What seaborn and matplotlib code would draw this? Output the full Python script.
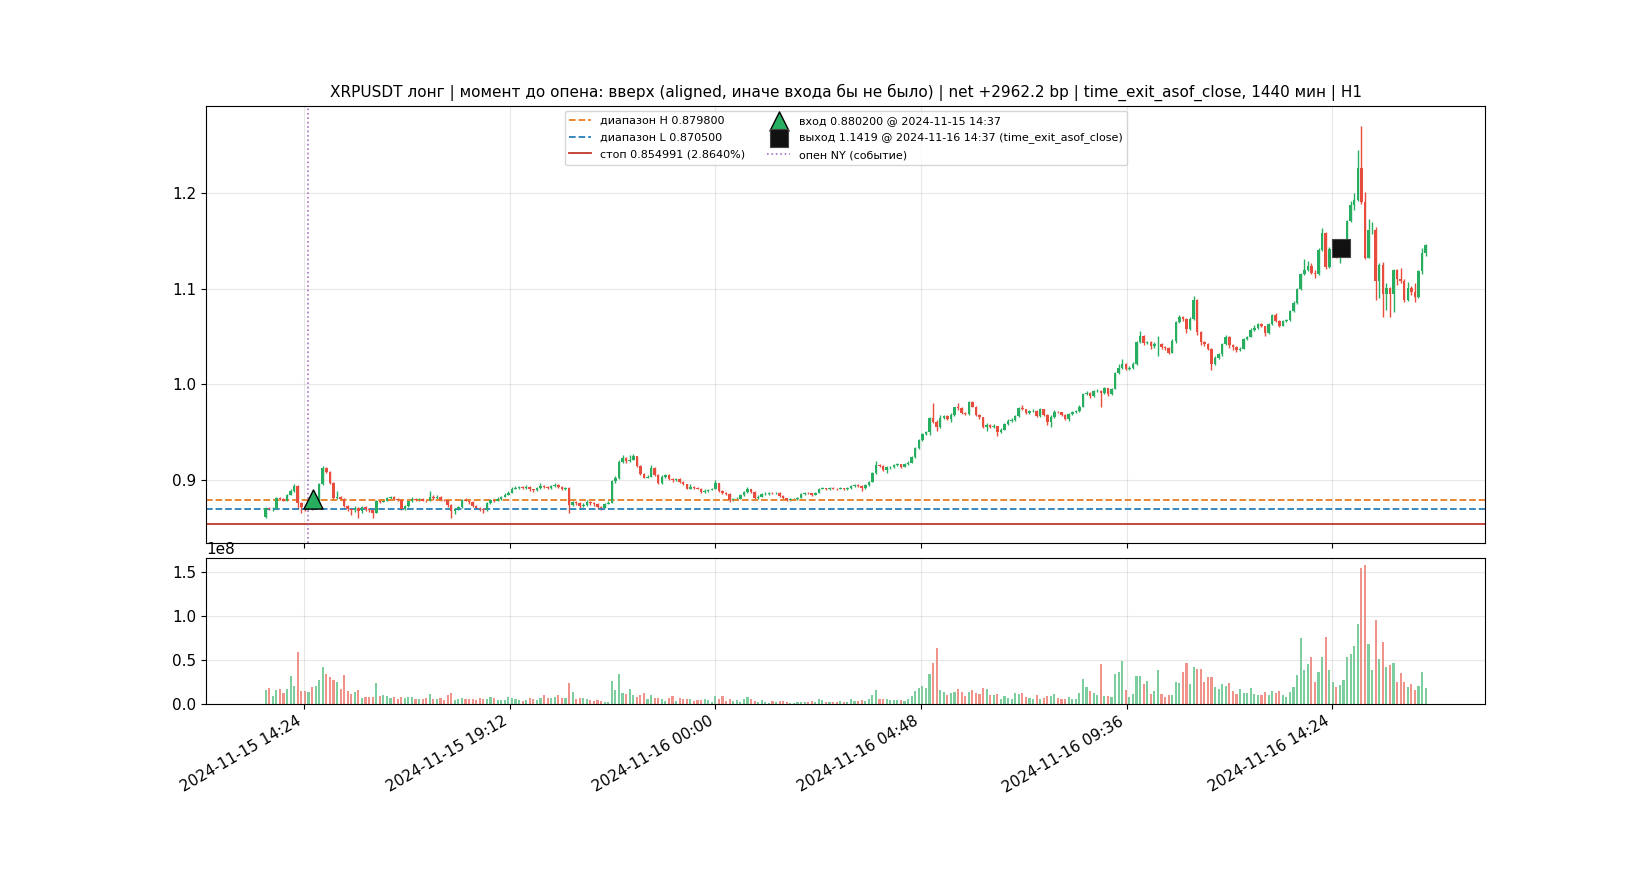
import numpy as np
import pandas as pd
import matplotlib
matplotlib.use("Agg")
import matplotlib.pyplot as plt
import matplotlib.dates as mdates
import seaborn as sns

# ---------------- data ----------------
start_time = "2024-11-15 13:30"
bar_freq = "5min"
first_open = 0.8615

closes = [
    0.8710, 0.8700, 0.8705, 0.8815, 0.8805, 0.8790, 0.8850, 0.8890, 0.8945, 0.8760,
    0.8720, 0.8700, 0.8725, 0.8710, 0.8745, 0.8960, 0.9130, 0.9090, 0.8975, 0.8815,
    0.8830, 0.8810, 0.8730, 0.8700, 0.8690, 0.8715, 0.8680, 0.8720, 0.8700, 0.8690,
    0.8665, 0.8785, 0.8775, 0.8790, 0.8815, 0.8825, 0.8810, 0.8800, 0.8700, 0.8730,
    0.8780, 0.8810, 0.8795, 0.8805, 0.8790, 0.8785, 0.8830, 0.8815, 0.8830, 0.8800,
    0.8795, 0.8740, 0.8680, 0.8700, 0.8720, 0.8800, 0.8790, 0.8770, 0.8730, 0.8715,
    0.8700, 0.8690, 0.8760, 0.8795, 0.8790, 0.8810, 0.8830, 0.8850, 0.8870, 0.8915,
    0.8925, 0.8930, 0.8920, 0.8935, 0.8905, 0.8895, 0.8925, 0.8945, 0.8930, 0.8925,
    0.8945, 0.8955, 0.8930, 0.8905, 0.8920, 0.8745, 0.8770, 0.8765, 0.8730, 0.8740,
    0.8770, 0.8760, 0.8750, 0.8720, 0.8715, 0.8755, 0.8765, 0.8990, 0.9020, 0.9195,
    0.9235, 0.9200, 0.9215, 0.9250, 0.9150, 0.9070, 0.9030, 0.9040, 0.9130, 0.9060,
    0.8970, 0.9040, 0.9060, 0.9010, 0.9000, 0.9010, 0.8985, 0.8960, 0.8915, 0.8930,
    0.8925, 0.8915, 0.8875, 0.8890, 0.8900, 0.8910, 0.8970, 0.8890, 0.8870, 0.8860,
    0.8795, 0.8805, 0.8810, 0.8845, 0.8875, 0.8905, 0.8880, 0.8820, 0.8830, 0.8860,
    0.8860, 0.8870, 0.8865, 0.8870, 0.8840, 0.8815, 0.8800, 0.8805, 0.8810, 0.8820,
    0.8855, 0.8870, 0.8865, 0.8850, 0.8870, 0.8910, 0.8920, 0.8905, 0.8920, 0.8915,
    0.8910, 0.8920, 0.8905, 0.8920, 0.8940, 0.8955, 0.8945, 0.8925, 0.8950, 0.8985,
    0.9080, 0.9160, 0.9150, 0.9110, 0.9135, 0.9140, 0.9160, 0.9170, 0.9140, 0.9175,
    0.9185, 0.9245, 0.9340, 0.9420, 0.9480, 0.9505, 0.9650, 0.9610, 0.9560, 0.9650,
    0.9670, 0.9640, 0.9680, 0.9760, 0.9750, 0.9700, 0.9690, 0.9815, 0.9770, 0.9680,
    0.9660, 0.9560, 0.9580, 0.9560, 0.9565, 0.9500, 0.9530, 0.9590, 0.9620, 0.9630,
    0.9670, 0.9750, 0.9740, 0.9700, 0.9720, 0.9725, 0.9670, 0.9740, 0.9680, 0.9610,
    0.9660, 0.9715, 0.9710, 0.9680, 0.9640, 0.9690, 0.9710, 0.9720, 0.9770, 0.9905,
    0.9915, 0.9880, 0.9930, 0.9935, 0.9915, 0.9960, 0.9900, 0.9955, 1.0115, 1.0170,
    1.0215, 1.0160, 1.0175, 1.0215, 1.0440, 1.0510, 1.0430, 1.0440, 1.0400, 1.0420,
    1.0425, 1.0390, 1.0385, 1.0330, 1.0450, 1.0650, 1.0700, 1.0680, 1.0580, 1.0685,
    1.0880, 1.0550, 1.0440, 1.0420, 1.0370, 1.0215, 1.0280, 1.0315, 1.0420, 1.0500,
    1.0410, 1.0390, 1.0360, 1.0375, 1.0470, 1.0495, 1.0570, 1.0585, 1.0630, 1.0605,
    1.0540, 1.0630, 1.0720, 1.0660, 1.0610, 1.0660, 1.0670, 1.0770, 1.0850, 1.1000,
    1.1150, 1.1195, 1.1230, 1.1165, 1.1150, 1.1400, 1.1580, 1.1220, 1.1410, 1.1440,
    1.1330, 1.1420, 1.1440, 1.1700, 1.1870, 1.1920, 1.2260, 1.1900, 1.1320, 1.1610,
    1.1615, 1.1080, 1.1250, 1.0940, 1.1010, 1.0940, 1.1190, 1.1095, 1.1075, 1.0880,
    1.1010, 1.0960, 1.0910, 1.1180, 1.1370, 1.1450,
]

highs = [
    0.8720, 0.8725, 0.8720, 0.8825, 0.8830, 0.8815, 0.8860, 0.8905, 0.8965, 0.8950,
    0.8775, 0.8735, 0.8740, 0.8735, 0.8755, 0.8970, 0.9150, 0.9140, 0.9095, 0.8980,
    0.8885, 0.8840, 0.8815, 0.8745, 0.8715, 0.8730, 0.8725, 0.8735, 0.8730, 0.8710,
    0.8700, 0.8800, 0.8795, 0.8805, 0.8830, 0.8840, 0.8835, 0.8820, 0.8810, 0.8745,
    0.8790, 0.8825, 0.8820, 0.8815, 0.8815, 0.8800, 0.8885, 0.8850, 0.8845, 0.8835,
    0.8810, 0.8800, 0.8750, 0.8715, 0.8735, 0.8810, 0.8815, 0.8800, 0.8780, 0.8740,
    0.8725, 0.8710, 0.8775, 0.8805, 0.8810, 0.8825, 0.8840, 0.8865, 0.8885, 0.8935,
    0.8940, 0.8945, 0.8940, 0.8950, 0.8940, 0.8915, 0.8935, 0.8975, 0.8955, 0.8945,
    0.8955, 0.8970, 0.8960, 0.8940, 0.8935, 0.8930, 0.8790, 0.8780, 0.8775, 0.8760,
    0.8800, 0.8780, 0.8770, 0.8760, 0.8735, 0.8765, 0.8780, 0.9000, 0.9045, 0.9215,
    0.9268, 0.9245, 0.9260, 0.9278, 0.9255, 0.9160, 0.9080, 0.9055, 0.9165, 0.9135,
    0.9065, 0.9055, 0.9070, 0.9065, 0.9020, 0.9025, 0.9020, 0.8990, 0.8965, 0.8965,
    0.8940, 0.8935, 0.8920, 0.8905, 0.8910, 0.8925, 0.9005, 0.8975, 0.8895, 0.8880,
    0.8865, 0.8820, 0.8825, 0.8860, 0.8885, 0.8935, 0.8910, 0.8885, 0.8845, 0.8870,
    0.8875, 0.8880, 0.8880, 0.8880, 0.8875, 0.8845, 0.8820, 0.8815, 0.8820, 0.8830,
    0.8865, 0.8880, 0.8880, 0.8870, 0.8880, 0.8920, 0.8935, 0.8925, 0.8930, 0.8930,
    0.8925, 0.8930, 0.8925, 0.8935, 0.8955, 0.8965, 0.8960, 0.8950, 0.8960, 0.8995,
    0.9090, 0.9200, 0.9170, 0.9160, 0.9150, 0.9155, 0.9175, 0.9185, 0.9175, 0.9185,
    0.9200, 0.9255, 0.9350, 0.9435, 0.9490, 0.9520, 0.9665, 0.9810, 0.9625, 0.9680,
    0.9685, 0.9680, 0.9700, 0.9770, 0.9810, 0.9760, 0.9715, 0.9825, 0.9830, 0.9775,
    0.9690, 0.9665, 0.9595, 0.9590, 0.9590, 0.9570, 0.9545, 0.9600, 0.9635, 0.9650,
    0.9680, 0.9760, 0.9790, 0.9745, 0.9735, 0.9740, 0.9730, 0.9750, 0.9745, 0.9690,
    0.9680, 0.9730, 0.9725, 0.9715, 0.9690, 0.9700, 0.9720, 0.9735, 0.9790, 0.9915,
    0.9930, 0.9920, 0.9945, 0.9950, 0.9945, 0.9970, 0.9965, 0.9965, 1.0125, 1.0215,
    1.0270, 1.0225, 1.0190, 1.0230, 1.0450, 1.0555, 1.0520, 1.0455, 1.0450, 1.0440,
    1.0505, 1.0435, 1.0400, 1.0395, 1.0470, 1.0665, 1.0725, 1.0710, 1.0690, 1.0700,
    1.0920, 1.0895, 1.0560, 1.0450, 1.0430, 1.0380, 1.0295, 1.0330, 1.0435, 1.0520,
    1.0510, 1.0420, 1.0400, 1.0390, 1.0485, 1.0510, 1.0590, 1.0620, 1.0640, 1.0645,
    1.0610, 1.0640, 1.0730, 1.0745, 1.0670, 1.0675, 1.0685, 1.0780, 1.0870, 1.1010,
    1.1165, 1.1305, 1.1290, 1.1270, 1.1190, 1.1425, 1.1630, 1.1590, 1.1430, 1.1460,
    1.1450, 1.1440, 1.1480, 1.1715, 1.1915, 1.2000, 1.2440, 1.2700, 1.2010, 1.1730,
    1.1690, 1.1640, 1.1270, 1.1275, 1.1060, 1.1020, 1.1200, 1.1200, 1.1215, 1.1100,
    1.1070, 1.1025, 1.1060, 1.1195, 1.1420, 1.1465,
]

lows = [
    0.8605, 0.8690, 0.8685, 0.8700, 0.8795, 0.8780, 0.8785, 0.8845, 0.8880, 0.8700,
    0.8660, 0.8680, 0.8690, 0.8695, 0.8700, 0.8740, 0.8955, 0.9075, 0.8960, 0.8800,
    0.8805, 0.8795, 0.8720, 0.8685, 0.8640, 0.8675, 0.8607, 0.8665, 0.8685, 0.8670,
    0.8612, 0.8660, 0.8760, 0.8770, 0.8780, 0.8805, 0.8800, 0.8790, 0.8690, 0.8690,
    0.8720, 0.8770, 0.8785, 0.8785, 0.8780, 0.8770, 0.8780, 0.8800, 0.8805, 0.8790,
    0.8780, 0.8725, 0.8605, 0.8650, 0.8690, 0.8710, 0.8780, 0.8755, 0.8720, 0.8700,
    0.8685, 0.8660, 0.8685, 0.8750, 0.8775, 0.8780, 0.8800, 0.8825, 0.8845, 0.8865,
    0.8905, 0.8915, 0.8905, 0.8910, 0.8885, 0.8880, 0.8885, 0.8915, 0.8920, 0.8910,
    0.8915, 0.8930, 0.8920, 0.8895, 0.8895, 0.8665, 0.8730, 0.8745, 0.8715, 0.8720,
    0.8735, 0.8745, 0.8735, 0.8700, 0.8695, 0.8710, 0.8750, 0.8760, 0.8975, 0.9010,
    0.9185, 0.9185, 0.9195, 0.9210, 0.9140, 0.9060, 0.9020, 0.9020, 0.9035, 0.9050,
    0.8960, 0.8965, 0.9030, 0.9000, 0.8985, 0.8990, 0.8975, 0.8950, 0.8905, 0.8910,
    0.8910, 0.8905, 0.8865, 0.8870, 0.8880, 0.8895, 0.8905, 0.8880, 0.8855, 0.8845,
    0.8775, 0.8785, 0.8795, 0.8805, 0.8835, 0.8870, 0.8870, 0.8810, 0.8810, 0.8825,
    0.8850, 0.8850, 0.8855, 0.8855, 0.8830, 0.8805, 0.8790, 0.8790, 0.8795, 0.8800,
    0.8815, 0.8845, 0.8855, 0.8840, 0.8845, 0.8865, 0.8905, 0.8895, 0.8900, 0.8905,
    0.8900, 0.8905, 0.8895, 0.8900, 0.8915, 0.8930, 0.8935, 0.8885, 0.8915, 0.8945,
    0.8980, 0.9070, 0.9135, 0.9100, 0.9080, 0.9120, 0.9130, 0.9150, 0.9130, 0.9135,
    0.9165, 0.9180, 0.9235, 0.9330, 0.9410, 0.9470, 0.9470, 0.9600, 0.9520, 0.9550,
    0.9640, 0.9630, 0.9610, 0.9670, 0.9735, 0.9690, 0.9680, 0.9685, 0.9760, 0.9670,
    0.9645, 0.9545, 0.9520, 0.9545, 0.9550, 0.9460, 0.9490, 0.9525, 0.9580, 0.9610,
    0.9620, 0.9665, 0.9730, 0.9690, 0.9695, 0.9710, 0.9660, 0.9665, 0.9670, 0.9580,
    0.9560, 0.9655, 0.9700, 0.9670, 0.9625, 0.9615, 0.9680, 0.9700, 0.9715, 0.9765,
    0.9895, 0.9860, 0.9870, 0.9920, 0.9770, 0.9905, 0.9880, 0.9895, 0.9950, 1.0105,
    1.0160, 1.0150, 1.0150, 1.0165, 1.0200, 1.0430, 1.0415, 1.0420, 1.0370, 1.0385,
    1.0300, 1.0375, 1.0360, 1.0315, 1.0325, 1.0430, 1.0640, 1.0665, 1.0540, 1.0570,
    1.0675, 1.0520, 1.0410, 1.0400, 1.0355, 1.0155, 1.0200, 1.0270, 1.0300, 1.0410,
    1.0380, 1.0360, 1.0340, 1.0345, 1.0370, 1.0460, 1.0490, 1.0560, 1.0575, 1.0595,
    1.0510, 1.0530, 1.0620, 1.0650, 1.0600, 1.0605, 1.0650, 1.0660, 1.0760, 1.0840,
    1.0985, 1.1140, 1.1185, 1.1150, 1.1110, 1.1140, 1.1390, 1.1200, 1.1210, 1.1395,
    1.1315, 1.1270, 1.1400, 1.1430, 1.1690, 1.1820, 1.1915, 1.1880, 1.1310, 1.1315,
    1.1570, 1.0880, 1.0900, 1.0700, 1.0780, 1.0700, 1.0760, 1.1040, 1.1060, 1.0860,
    1.0870, 1.0930, 1.0860, 1.0905, 1.1150, 1.1335,
]

volume_1e8 = [
    0.155, 0.186, 0.087, 0.155, 0.174, 0.129, 0.174, 0.322, 0.208, 0.595,
    0.152, 0.152, 0.140, 0.197, 0.208, 0.277, 0.424, 0.345, 0.310, 0.277,
    0.254, 0.174, 0.333, 0.152, 0.117, 0.140, 0.163, 0.072, 0.083, 0.083,
    0.083, 0.242, 0.095, 0.106, 0.095, 0.072, 0.083, 0.061, 0.083, 0.072,
    0.083, 0.083, 0.061, 0.061, 0.061, 0.072, 0.117, 0.061, 0.061, 0.072,
    0.050, 0.106, 0.129, 0.050, 0.061, 0.072, 0.061, 0.061, 0.061, 0.050,
    0.072, 0.061, 0.061, 0.083, 0.072, 0.050, 0.050, 0.050, 0.083, 0.072,
    0.061, 0.050, 0.038, 0.050, 0.072, 0.061, 0.050, 0.072, 0.106, 0.072,
    0.072, 0.083, 0.106, 0.072, 0.072, 0.242, 0.140, 0.061, 0.072, 0.072,
    0.061, 0.050, 0.038, 0.050, 0.038, 0.027, 0.027, 0.265, 0.163, 0.345,
    0.129, 0.117, 0.174, 0.106, 0.083, 0.106, 0.129, 0.061, 0.106, 0.072,
    0.072, 0.061, 0.038, 0.072, 0.095, 0.038, 0.072, 0.061, 0.061, 0.061,
    0.038, 0.050, 0.050, 0.061, 0.050, 0.027, 0.095, 0.061, 0.095, 0.038,
    0.061, 0.038, 0.050, 0.027, 0.061, 0.083, 0.061, 0.038, 0.027, 0.050,
    0.027, 0.015, 0.038, 0.027, 0.038, 0.038, 0.027, 0.015, 0.015, 0.027,
    0.027, 0.027, 0.027, 0.038, 0.027, 0.061, 0.050, 0.027, 0.027, 0.027,
    0.027, 0.038, 0.027, 0.027, 0.061, 0.030, 0.030, 0.050, 0.030, 0.060,
    0.100, 0.155, 0.060, 0.060, 0.060, 0.040, 0.050, 0.050, 0.050, 0.030,
    0.060, 0.087, 0.144, 0.178, 0.200, 0.178, 0.336, 0.472, 0.642, 0.155,
    0.132, 0.100, 0.120, 0.132, 0.166, 0.132, 0.087, 0.132, 0.155, 0.120,
    0.110, 0.178, 0.166, 0.100, 0.100, 0.110, 0.053, 0.087, 0.064, 0.053,
    0.120, 0.110, 0.120, 0.076, 0.064, 0.053, 0.100, 0.053, 0.064, 0.087,
    0.087, 0.110, 0.064, 0.053, 0.053, 0.076, 0.053, 0.053, 0.120, 0.280,
    0.190, 0.144, 0.120, 0.100, 0.460, 0.087, 0.087, 0.076, 0.336, 0.360,
    0.495, 0.155, 0.076, 0.110, 0.314, 0.314, 0.223, 0.257, 0.110, 0.144,
    0.382, 0.110, 0.076, 0.100, 0.100, 0.246, 0.234, 0.360, 0.472, 0.223,
    0.427, 0.393, 0.404, 0.246, 0.302, 0.302, 0.190, 0.166, 0.223, 0.200,
    0.234, 0.144, 0.110, 0.166, 0.120, 0.120, 0.178, 0.110, 0.100, 0.100,
    0.132, 0.100, 0.144, 0.120, 0.144, 0.100, 0.076, 0.132, 0.190, 0.325,
    0.756, 0.382, 0.450, 0.540, 0.246, 0.370, 0.540, 0.767, 0.382, 0.246,
    0.190, 0.212, 0.268, 0.540, 0.574, 0.665, 0.915, 1.550, 1.583, 0.688,
    0.382, 0.960, 0.518, 0.710, 0.416, 0.440, 0.472, 0.246, 0.348, 0.246,
    0.190, 0.223, 0.155, 0.200, 0.360, 0.178,
]

range_high = 0.879800
range_low = 0.870500
stop_price = 0.854991
stop_pct = 2.8640
entry_time = "2024-11-15 14:37"
entry_price = 0.880200
exit_time = "2024-11-16 14:37"
exit_price = 1.1419
ny_open_time = "2024-11-15 14:30"

title_text = ("XRPUSDT лонг | момент до опена: вверх (aligned, иначе входа бы не было) | "
              "net +2962.2 bp | time_exit_asof_close, 1440 мин | H1")

# ---------------- styling ----------------
UP = "#27ae60"
DOWN = "#e74c3c"
C_H = "#e67e22"
C_L = "#2980b9"
C_STOP = "#c0392b"
C_NY = "#9b59b6"

plt.rcParams["xtick.labelsize"] = 11
plt.rcParams["ytick.labelsize"] = 11

n = min(len(closes), len(highs), len(lows), len(volume_1e8))
c = np.asarray(closes[:n], dtype=float)
h = np.asarray(highs[:n], dtype=float)
l = np.asarray(lows[:n], dtype=float)
v = np.asarray(volume_1e8[:n], dtype=float) * 1e8
o = np.r_[first_open, c[:-1]]
h = np.maximum(h, np.maximum(o, c))
l = np.minimum(l, np.minimum(o, c))

times = pd.date_range(start_time, periods=n, freq=bar_freq)
x = mdates.date2num(times.to_pydatetime())
step = 5.0 / 1440.0
up = c >= o
colors = np.where(up, UP, DOWN)

fig = plt.figure(figsize=(16.5, 8.8), dpi=100)
gs = fig.add_gridspec(2, 1, height_ratios=[3, 1], hspace=0.05)
ax = fig.add_subplot(gs[0])
axv = fig.add_subplot(gs[1], sharex=ax)

# candles
ax.vlines(x, l, h, colors=colors, linewidth=1.0, zorder=2)
body_h = np.maximum(np.abs(c - o), 0.0002)
ax.bar(x, body_h, bottom=np.minimum(o, c), width=step * 0.7, color=colors,
       linewidth=0, zorder=3)

# levels
hl = ax.axhline(range_high, color=C_H, linestyle="--", linewidth=1.3,
                label=f"диапазон H {range_high:.6f}")
ll = ax.axhline(range_low, color=C_L, linestyle="--", linewidth=1.3,
                label=f"диапазон L {range_low:.6f}")
sl = ax.axhline(stop_price, color=C_STOP, linestyle="-", linewidth=1.3,
                label=f"стоп {stop_price:.6f} ({stop_pct:.4f}%)")
ny_x = mdates.date2num(pd.Timestamp(ny_open_time).to_pydatetime())
nyl = ax.axvline(ny_x, color=C_NY, linestyle=":", linewidth=1.2, alpha=0.85,
                 label="опен NY (событие)")

# entry / exit markers with seaborn
ex = mdates.date2num(pd.Timestamp(entry_time).to_pydatetime())
xx = mdates.date2num(pd.Timestamp(exit_time).to_pydatetime())
sns.scatterplot(x=[ex], y=[entry_price], marker="^", s=190, color=UP,
                edgecolor="black", linewidth=1.0, zorder=6, ax=ax, legend=False)
entry_h = ax.collections[-1]
entry_h.set_label(f"вход {entry_price:.6f} @ {entry_time}")
sns.scatterplot(x=[xx], y=[exit_price], marker="s", s=150, color="#111111",
                edgecolor="#444444", linewidth=0.8, zorder=6, ax=ax, legend=False)
exit_h = ax.collections[-1]
exit_h.set_label(f"выход {exit_price:.4f} @ {exit_time} (time_exit_asof_close)")

ax.legend(handles=[hl, ll, sl, entry_h, exit_h, nyl], loc="upper center",
          ncol=2, fontsize=8, labelspacing=0.62)
ax.set_title(title_text, fontsize=11)
ax.grid(True, alpha=0.3)

# volume
axv.bar(x, v, width=step * 0.6, color=colors, alpha=0.6, linewidth=0)
axv.grid(True, alpha=0.3)

axv.xaxis.set_major_formatter(mdates.DateFormatter("%Y-%m-%d %H:%M"))
fig.autofmt_xdate()

fig.savefig("out.png", dpi=100)
